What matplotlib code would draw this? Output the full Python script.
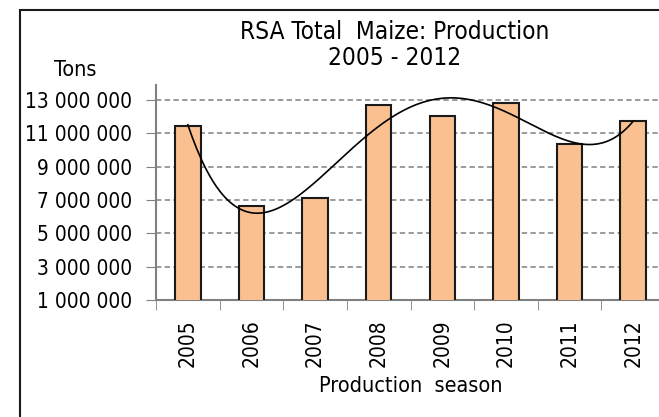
import numpy as np
import matplotlib
matplotlib.use("Agg")
from matplotlib import pyplot as plt
from matplotlib.patches import Rectangle
from matplotlib.ticker import FuncFormatter

seasons = ["2005", "2006", "2007", "2008", "2009", "2010", "2011", "2012"]
production = [11450000, 6620000, 7120000, 12700000, 12050000, 12820000, 10360000, 11750000]
yticks = [1000000, 3000000, 5000000, 7000000, 9000000, 11000000, 13000000]

plt.rcParams['font.family'] = 'DejaVu Sans'
plt.rcParams['font.stretch'] = 'condensed'

fig = plt.figure(figsize=(6.59, 4.17), dpi=100)

# outer chart border (cropped at right and bottom like the reference)
fig.patches.append(Rectangle((20 / 659, -0.1), 1.0, (417 - 10) / 417 + 0.1,
                             transform=fig.transFigure, fill=False,
                             edgecolor='#1a1a1a', linewidth=1.5))

ax = fig.add_axes([156 / 659, 117 / 417, 509 / 659, 215 / 417])
x = np.arange(len(seasons))
ax.bar(x, production, width=0.4, bottom=0, color='#FAC090',
       edgecolor='#1a1a1a', linewidth=1.5, zorder=3)

# polynomial trendline over the bars
coef = np.polyfit(x, production, 4)
xs = np.linspace(0, len(seasons) - 1, 200)
ax.plot(xs, np.polyval(coef, xs), color='black', linewidth=1.2, zorder=4)

ax.set_xlim(-0.5, len(seasons) - 0.5)
ax.set_ylim(1000000, 13900000)
ax.set_yticks(yticks)
ax.yaxis.set_major_formatter(FuncFormatter(lambda v, p: f"{v:,.0f}".replace(",", " ")))
ax.tick_params(axis='y', labelsize=15, length=7, color='#808080', pad=10)

ax.set_xticks(x)
ax.set_xticklabels(seasons, rotation=90, fontsize=15)
ax.set_xticks(np.arange(len(seasons) + 1) - 0.5, minor=True)
ax.tick_params(axis='x', which='major', length=0, pad=14)
ax.tick_params(axis='x', which='minor', length=7, color='#808080')

for v in yticks[1:]:
    ax.axhline(v, color='#808080', linewidth=1.1, linestyle=(0, (3.5, 2.2)), zorder=1)

for s in ['top', 'right']:
    ax.spines[s].set_visible(False)
for s in ['left', 'bottom']:
    ax.spines[s].set_color('#808080')
    ax.spines[s].set_linewidth(1.5)

ax.set_xlabel("Production  season", fontsize=15.5, labelpad=6)

fig.text(395 / 659, 1 - 32 / 417, "RSA Total  Maize: Production", fontsize=17.5,
         ha='center', va='center')
fig.text(395 / 659, 1 - 58 / 417, "2005 - 2012", fontsize=17.5, ha='center', va='center')
fig.text(75 / 659, 1 - 70 / 417, "Tons", fontsize=15.5, ha='center', va='center')

fig.savefig("out.png", dpi=100)
